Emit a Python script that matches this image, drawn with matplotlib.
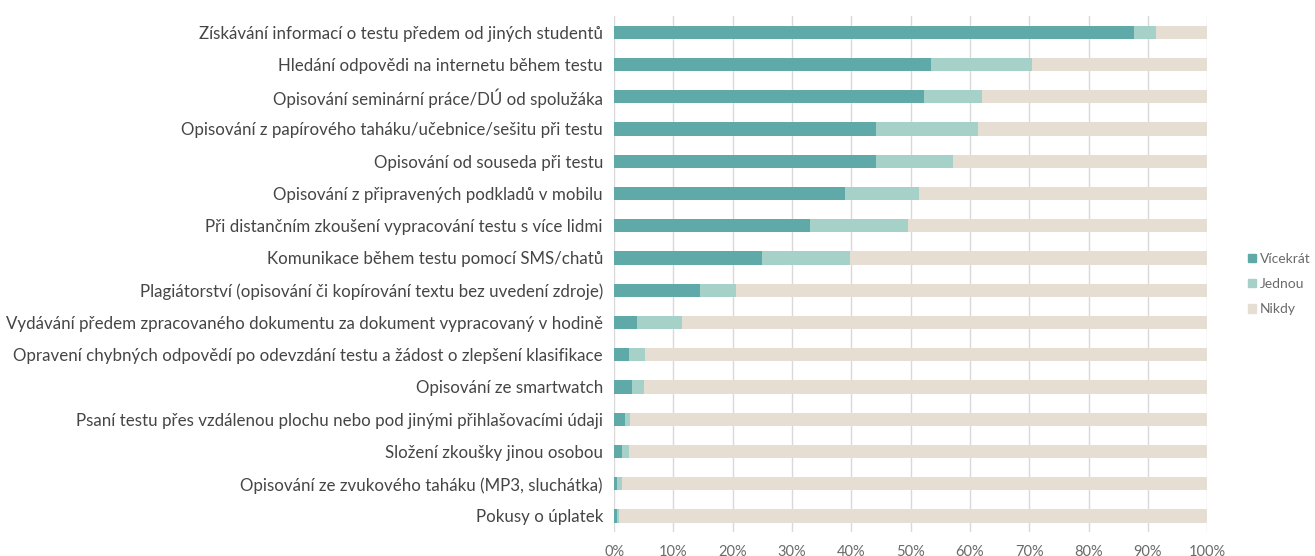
import numpy as np
import matplotlib.pyplot as plt
from matplotlib.patches import Patch

plt.rcParams['font.family'] = ['Lato', 'DejaVu Sans']

labels = [
    "Získávání informací o testu předem od jiných studentů",
    "Hledání odpovědi na internetu během testu",
    "Opisování seminární práce/DÚ od spolužáka",
    "Opisování z papírového taháku/učebnice/sešitu při testu",
    "Opisování od souseda při testu",
    "Opisování z připravených podkladů v mobilu",
    "Při distančním zkoušení vypracování testu s více lidmi",
    "Komunikace během testu pomocí SMS/chatů",
    "Plagiátorství (opisování či kopírování textu bez uvedení zdroje)",
    "Vydávání předem zpracovaného dokumentu za dokument vypracovaný v hodině",
    "Opravení chybných odpovědí po odevzdání testu a žádost o zlepšení klasifikace",
    "Opisování ze smartwatch",
    "Psaní testu přes vzdálenou plochu nebo pod jinými přihlašovacími údaji",
    "Složení zkoušky jinou osobou",
    "Opisování ze zvukového taháku (MP3, sluchátka)",
    "Pokusy o úplatek",
]
vicekrat = [87.7, 53.5, 52.2, 44.2, 44.2, 38.9, 33.1, 24.9, 14.5, 3.8, 2.5, 3.1, 1.8, 1.4, 0.5, 0.5]
jednou = [3.7, 16.9, 9.9, 17.1, 13.0, 12.5, 16.4, 14.9, 6.0, 7.6, 2.7, 2.0, 0.9, 1.1, 0.9, 0.4]
nikdy = [100 - a - b for a, b in zip(vicekrat, jednou)]

c_v, c_j, c_n = "#5fa9a8", "#a5d1c9", "#e6ddd3"

fig = plt.figure(figsize=(13.15, 5.56), dpi=100)
ax = fig.add_axes([0.467, 0.043, 0.451, 0.928])

y = np.arange(len(labels))
v = np.array(vicekrat)
j = np.array(jednou)
n = np.array(nikdy)
ax.barh(y, v, height=0.41, color=c_v, zorder=2)
ax.barh(y, j, left=v, height=0.41, color=c_j, zorder=2)
ax.barh(y, n, left=v + j, height=0.41, color=c_n, zorder=2)

ax.set_ylim(len(labels) - 0.5, -0.5)
ax.set_xlim(0, 100)
ax.set_yticks(y)
ax.set_yticklabels(labels, fontsize=12.2, color="#454545")
ax.set_xticks(np.arange(0, 101, 10))
ax.set_xticklabels([f"{t}%" for t in range(0, 101, 10)], fontsize=10.5, color="#6a6a6a")
ax.tick_params(axis="y", length=0, pad=8)
ax.tick_params(axis="x", length=0, pad=9)
ax.grid(axis="x", color="#d9d9d9", linewidth=1, zorder=0)
for s in ax.spines.values():
    s.set_visible(False)

handles = [Patch(color=c_v, label="Vícekrát"), Patch(color=c_j, label="Jednou"), Patch(color=c_n, label="Nikdy")]
fig.legend(handles=handles, loc="center left", bbox_to_anchor=(0.945, 0.489), frameon=False,
           handlelength=0.55, handleheight=0.55, handletextpad=0.3, labelspacing=0.95,
           labelcolor="#6a6a6a", borderaxespad=0, prop={"size": 10})

fig.savefig("out.png", dpi=100)
